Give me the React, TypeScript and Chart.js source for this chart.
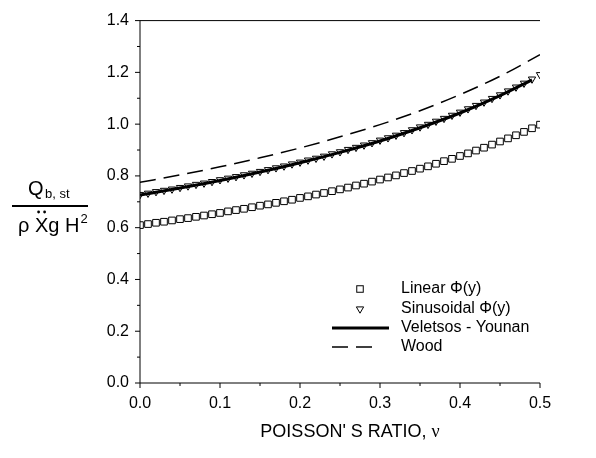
import React, { useEffect, useRef } from 'react';
import { Chart, registerables } from 'chart.js';

Chart.register(...registerables);

// Poisson's ratio samples for the marker series
const nu = [
  0.0, 0.01, 0.02, 0.03, 0.04, 0.05, 0.06, 0.07, 0.08, 0.09,
  0.1, 0.11, 0.12, 0.13, 0.14, 0.15, 0.16, 0.17, 0.18, 0.19,
  0.2, 0.21, 0.22, 0.23, 0.24, 0.25, 0.26, 0.27, 0.28, 0.29,
  0.3, 0.31, 0.32, 0.33, 0.34, 0.35, 0.36, 0.37, 0.38, 0.39,
  0.4, 0.41, 0.42, 0.43, 0.44, 0.45, 0.46, 0.47, 0.48, 0.49, 0.5,
];

const linearPhi = [
  0.610, 0.614, 0.619, 0.623, 0.628, 0.633, 0.637, 0.642, 0.647, 0.652,
  0.657, 0.663, 0.668, 0.673, 0.679, 0.685, 0.690, 0.696, 0.702, 0.708,
  0.715, 0.721, 0.728, 0.734, 0.741, 0.748, 0.755, 0.763, 0.770, 0.778,
  0.786, 0.794, 0.802, 0.811, 0.819, 0.828, 0.837, 0.847, 0.857, 0.866,
  0.877, 0.887, 0.898, 0.909, 0.921, 0.933, 0.945, 0.957, 0.970, 0.984, 0.998,
];

const sinusoidalPhi = [
  0.728, 0.733, 0.739, 0.744, 0.749, 0.755, 0.761, 0.767, 0.772, 0.778,
  0.785, 0.791, 0.797, 0.804, 0.810, 0.817, 0.824, 0.831, 0.838, 0.846,
  0.853, 0.861, 0.868, 0.876, 0.885, 0.893, 0.902, 0.910, 0.919, 0.928,
  0.938, 0.947, 0.957, 0.967, 0.978, 0.989, 0.999, 1.011, 1.022, 1.034,
  1.046, 1.059, 1.072, 1.085, 1.099, 1.113, 1.128, 1.143, 1.158, 1.174, 1.191,
];

const veletsosNu = [0.0, 0.05, 0.1, 0.15, 0.2, 0.25, 0.3, 0.35, 0.4, 0.45, 0.49];
const veletsosYounan = [0.726, 0.753, 0.782, 0.815, 0.851, 0.891, 0.935, 0.986, 1.043, 1.110, 1.171];

const woodNu = [0.0, 0.05, 0.1, 0.15, 0.2, 0.25, 0.3, 0.35, 0.4, 0.45, 0.5];
const wood = [0.775, 0.804, 0.835, 0.870, 0.908, 0.951, 0.998, 1.052, 1.114, 1.185, 1.268];

const yMajorTicks = [0, 0.2, 0.4, 0.6, 0.8, 1.0, 1.2, 1.4];
const yMinorTicks = [0.1, 0.3, 0.5, 0.7, 0.9, 1.1, 1.3];
const xMajorTicks = [0, 0.1, 0.2, 0.3, 0.4, 0.5];
const xMinorTicks = [0.05, 0.15, 0.25, 0.35, 0.45];

const legendLabels = ['Linear \u03A6(y)', 'Sinusoidal \u03A6(y)', 'Veletsos - Younan', 'Wood'];
const xTitle = "POISSON' S RATIO, ";
const xTitleSymbol = '\u03BD';

const SANS = '"Liberation Sans", Arial, Helvetica, sans-serif';
const SERIF = '"Liberation Serif", "Times New Roman", serif';

const pts = (xs: number[], ys: number[]) => xs.map((x, i) => ({ x, y: ys[i] }));

function drawSquare(ctx: CanvasRenderingContext2D, x: number, y: number, s: number) {
  ctx.fillStyle = '#fff';
  ctx.fillRect(x - s / 2, y - s / 2, s, s);
  ctx.strokeRect(x - s / 2, y - s / 2, s, s);
}

function drawTriDown(ctx: CanvasRenderingContext2D, x: number, y: number, r: number) {
  ctx.beginPath();
  ctx.moveTo(x - r * 0.87, y - r * 0.5);
  ctx.lineTo(x + r * 0.87, y - r * 0.5);
  ctx.lineTo(x, y + r);
  ctx.closePath();
  ctx.fillStyle = '#fff';
  ctx.fill();
  ctx.stroke();
}

const decorPlugin = {
  id: 'decor',
  afterDraw(chart: any) {
    const { ctx, chartArea } = chart;
    const xs = chart.scales.x;
    const ys = chart.scales.y;
    const { left, right, top, bottom } = chartArea;
    ctx.save();
    ctx.strokeStyle = '#000';
    ctx.lineWidth = 1;
    // axes
    ctx.beginPath();
    ctx.moveTo(left, top);
    ctx.lineTo(left, bottom);
    ctx.lineTo(right, bottom);
    ctx.moveTo(left, top);
    ctx.lineTo(right, top);
    ctx.stroke();
    // ticks
    ctx.beginPath();
    yMajorTicks.forEach((v) => {
      const py = ys.getPixelForValue(v);
      ctx.moveTo(left - 5, py);
      ctx.lineTo(left, py);
    });
    yMinorTicks.forEach((v) => {
      const py = ys.getPixelForValue(v);
      ctx.moveTo(left - 3, py);
      ctx.lineTo(left, py);
    });
    xMajorTicks.forEach((v) => {
      const px = xs.getPixelForValue(v);
      ctx.moveTo(px, bottom);
      ctx.lineTo(px, bottom + 5);
    });
    xMinorTicks.forEach((v) => {
      const px = xs.getPixelForValue(v);
      ctx.moveTo(px, bottom);
      ctx.lineTo(px, bottom + 3);
    });
    ctx.stroke();

    // legend
    const rowY = [289, 309, 328, 347];
    const symX = 360;
    const textX = 401;
    ctx.font = `16px ${SANS}`;
    ctx.textBaseline = 'middle';
    ctx.textAlign = 'left';
    ctx.lineWidth = 1;
    drawSquare(ctx, symX, rowY[0], 6.5);
    drawTriDown(ctx, symX, rowY[1], 4.2);
    ctx.beginPath();
    ctx.lineWidth = 3;
    ctx.moveTo(332, rowY[2]);
    ctx.lineTo(389, rowY[2]);
    ctx.stroke();
    ctx.beginPath();
    ctx.lineWidth = 1.5;
    ctx.setLineDash([16, 8]);
    ctx.moveTo(332, rowY[3]);
    ctx.lineTo(380, rowY[3]);
    ctx.stroke();
    ctx.setLineDash([]);
    ctx.fillStyle = '#000';
    legendLabels.forEach((t, i) => ctx.fillText(t, textX, rowY[i]));

    // x title
    ctx.textBaseline = 'alphabetic';
    ctx.font = `18px ${SANS}`;
    const w1 = ctx.measureText(xTitle).width;
    ctx.font = `18px ${SERIF}`;
    const w2 = ctx.measureText(xTitleSymbol).width;
    const startX = 350 - (w1 + w2) / 2;
    ctx.font = `18px ${SANS}`;
    ctx.fillText(xTitle, startX, 437);
    ctx.font = `18px ${SERIF}`;
    ctx.fillText(xTitleSymbol, startX + w1, 437);

    // y title (fraction)
    ctx.font = `20px ${SANS}`;
    ctx.fillText('Q', 28, 195);
    ctx.font = `13px ${SANS}`;
    ctx.fillText('b, st', 45, 198);
    ctx.beginPath();
    ctx.lineWidth = 2;
    ctx.moveTo(12, 206);
    ctx.lineTo(88, 206);
    ctx.stroke();
    ctx.font = `20px ${SANS}`;
    let cx = 18;
    ctx.fillText('\u03C1', cx, 232);
    cx += ctx.measureText('\u03C1 ').width;
    const xw = ctx.measureText('X').width;
    ctx.fillText('X', cx, 232);
    ctx.beginPath();
    ctx.arc(cx + xw / 2 - 3, 212, 1.4, 0, Math.PI * 2);
    ctx.arc(cx + xw / 2 + 3, 212, 1.4, 0, Math.PI * 2);
    ctx.fill();
    cx += xw;
    ctx.fillText('g H', cx, 232);
    cx += ctx.measureText('g H').width;
    ctx.font = `13px ${SANS}`;
    ctx.fillText('2', cx + 1, 223);
    ctx.restore();
  },
};

export default function App() {
  const ref = useRef<HTMLCanvasElement | null>(null);
  useEffect(() => {
    if (!ref.current) return;
    const chart = new Chart(ref.current, {
      type: 'scatter',
      data: {
        datasets: [
          {
            label: 'Veletsos - Younan',
            data: pts(veletsosNu, veletsosYounan),
            showLine: true,
            borderColor: '#000',
            borderWidth: 3,
            pointRadius: 0,
            cubicInterpolationMode: 'monotone',
            order: 0,
          },
          {
            label: 'Wood',
            data: pts(woodNu, wood),
            showLine: true,
            borderColor: '#000',
            borderWidth: 1.5,
            borderDash: [16, 8],
            pointRadius: 0,
            cubicInterpolationMode: 'monotone',
            order: 1,
          },
          {
            label: 'Sinusoidal',
            data: pts(nu, sinusoidalPhi),
            showLine: false,
            pointStyle: 'triangle',
            rotation: 180,
            pointRadius: 4.2,
            borderColor: '#000',
            backgroundColor: '#fff',
            pointBorderWidth: 1,
            order: 2,
          },
          {
            label: 'Linear',
            data: pts(nu, linearPhi),
            showLine: false,
            pointStyle: 'rect',
            pointRadius: 4.7,
            borderColor: '#000',
            backgroundColor: '#fff',
            pointBorderWidth: 1,
            order: 3,
          },
        ],
      } as any,
      options: {
        responsive: false,
        animation: false,
        devicePixelRatio: 1,
        layout: { padding: { left: 0, right: 56, top: 18, bottom: 0 } },
        plugins: { legend: { display: false }, tooltip: { enabled: false } },
        scales: {
          x: {
            type: 'linear',
            min: 0,
            max: 0.5,
            grid: { display: false, drawTicks: false },
            border: { display: false },
            ticks: {
              stepSize: 0.1,
              padding: 11,
              color: '#000',
              font: { family: SANS, size: 16 },
              callback: (v: any) => Number(v).toFixed(1),
            },
            afterFit: (s: any) => { s.height = 75; },
          },
          y: {
            type: 'linear',
            min: 0,
            max: 1.4,
            grid: { display: false, drawTicks: false },
            border: { display: false },
            ticks: {
              stepSize: 0.2,
              padding: 11,
              color: '#000',
              font: { family: SANS, size: 16 },
              callback: (v: any) => Number(v).toFixed(1),
            },
            afterFit: (s: any) => { s.width = 140; },
          },
        },
      } as any,
      plugins: [decorPlugin],
    });
    return () => chart.destroy();
  }, []);
  return (
    <div style={{ position: 'fixed', left: 0, top: 0, width: 596, height: 458, background: '#fff' }}>
      <canvas ref={ref} width={596} height={458} style={{ width: 596, height: 458, display: 'block' }} />
    </div>
  );
}
